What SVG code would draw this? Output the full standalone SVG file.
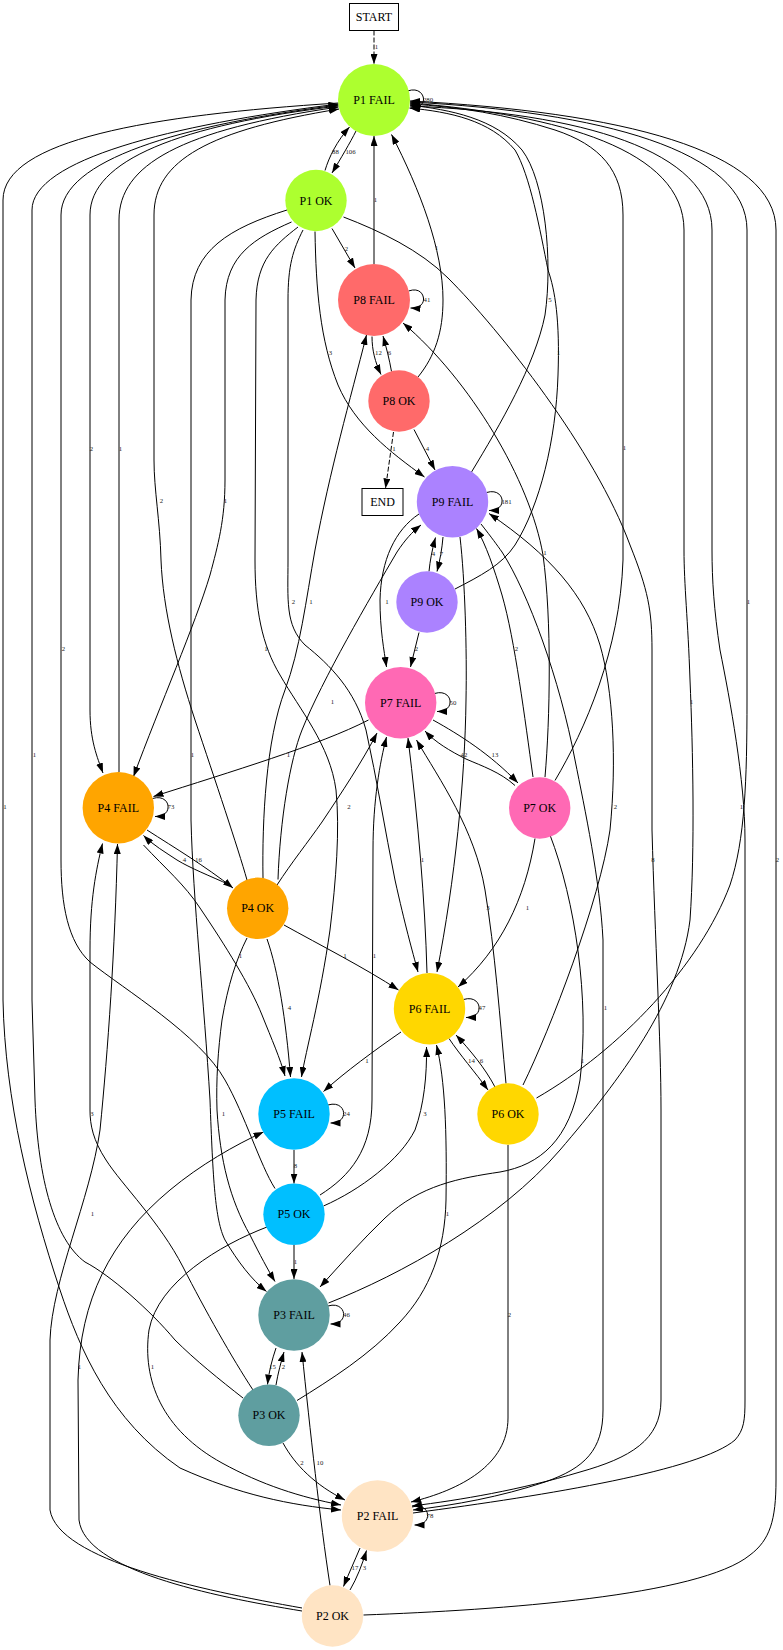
<svg xmlns="http://www.w3.org/2000/svg" width="783" height="1650" viewBox="0 0 783 1650">
<style>
.e{fill:none;stroke:#000;stroke-width:1;marker-end:url(#arr)}
.d{stroke-dasharray:5,2}
.l{font-family:"Liberation Serif",serif;font-size:6.8px;fill:#222;text-anchor:middle}
.t{font-family:"Liberation Serif",serif;font-size:12px;fill:#000;text-anchor:middle}
.box{fill:#fff;stroke:#000;stroke-width:1}
</style>
<defs>
<marker id="arr" viewBox="0 0 10 7" refX="10" refY="3.5" markerWidth="10" markerHeight="7" markerUnits="userSpaceOnUse" orient="auto"><path d="M0,0L10,3.5L0,7z" fill="#000"/></marker>
</defs>
<rect width="783" height="1650" fill="#fff"/>

<g id="edges">
<path class="e d" d="M374,30.5 L374,64"/><text class="l" x="376.5" y="48.5">1</text>
<path class="e" d="M407.5,91 C419,87 424,95 423.5,100 C423,105 418,108.5 410.5,108"/><text class="l" x="428" y="102">280</text>
<path class="e" d="M356,131 C350,143 341,158 332,173"/><text class="l" x="350.5" y="153.5">106</text>
<path class="e" d="M325,170.5 C329,157 337,141 349.5,127"/><text class="l" x="335.5" y="153.5">88</text>
<path class="e" d="M332,228.5 L355,268"/><text class="l" x="346.5" y="250.5">2</text>
<path class="e" d="M315,231.5 C316,290 320,340 338,385 C355,425 390,452 424.5,477"/><text class="l" x="330.5" y="354.5">3</text>
<path class="e" d="M303,230 C293,250 288,265 288,300 L288,560 C288,600 285,625 305,645 C330,665 355,690 366,730 C377,780 385,830 395,880 C405,925 412,950 418,972"/><text class="l" x="293.5" y="603.5">2</text>
<path class="e" d="M298,227 C275,245 257,260 256,300 L255,560 C255,610 262,645 280,675 C300,710 330,745 336,790 C340,830 336,880 330,930 C320,1000 306,1050 301.5,1077"/><text class="l" x="266" y="650.5">1</text>
<path class="e" d="M291.5,222 C255,238 226,255 225,300 L225,480 C225,520 218,545 210,575 C195,625 160,705 133.5,776.5"/><text class="l" x="225.5" y="503">1</text>
<path class="e" d="M287,210 C230,228 192,250 191,300 L191,820 C193,900 204,1000 210,1100 C213,1180 215,1220 225,1240 C238,1262 252,1280 266.5,1291.5"/><text class="l" x="192.5" y="757">1</text>
<path class="e" d="M343.5,217 C380,231 420,250 448,278 C500,330 595,450 630,545 C648,590 652,610 652,650 L652,830 C655,940 661,1040 661,1110 L661,1400 C661,1440 630,1458 580,1472 C520,1490 460,1500 412,1506"/><text class="l" x="653" y="862">8</text>
<path class="e" d="M374,264 L374,136"/><text class="l" x="375.5" y="202">1</text>
<path class="e" d="M408.5,291 C420,287 424,295 423.5,300 C423,305 418,308.5 410.5,308"/><text class="l" x="427" y="302">41</text>
<path class="e" d="M372,336.5 C372,350 375,362 381,374.5"/><text class="l" x="378.5" y="355">12</text>
<path class="e" d="M391.5,371.5 C389.5,360 386.5,348 383,336"/><text class="l" x="389.5" y="355">6</text>
<path class="e d" d="M393.5,432 L385.5,488.5"/><text class="l" x="394" y="451">1</text>
<path class="e" d="M414,429.5 L435,470"/><text class="l" x="427.5" y="451">4</text>
<path class="e" d="M418,377 C435,356 443,332 443,300 C443,250 420,190 391.5,134.5"/><text class="l" x="436.5" y="250">1</text>
<path class="e" d="M486.5,492.5 C498,489 503,497 502,502 C501.5,507 497,510.5 489,510.5"/><text class="l" x="506.5" y="503.5">181</text>
<path class="e" d="M471.5,472 C500,425 535,365 545,315 C553,260 545,180 522,150 C495,118 450,110 410,105"/><text class="l" x="550" y="302">5</text>
<path class="e" d="M443,537 C442,549 440,560 437,571.5"/><text class="l" x="441.5" y="556">7</text>
<path class="e" d="M429,571.5 C430,561 432,550 435.5,537.5"/><text class="l" x="433.5" y="556">4</text>
<path class="e" d="M455,589 C480,576 502,565 515,545 C540,505 556,440 558,375 C560,320 555,290 548,270 C540,230 530,175 515,150 C490,120 450,112 409.5,108"/><text class="l" x="558.5" y="355">1</text>
<path class="e" d="M419,632.5 L410.5,667"/><text class="l" x="416.5" y="651">2</text>
<path class="e" d="M419,514 C395,530 381,560 380,600 C380,630 384,650 386.5,667"/><text class="l" x="387" y="603.5">1</text>
<path class="e" d="M460,537 C465,580 467,650 466,700 C465,780 455,880 437,972"/>
<path class="e" d="M481,524 C492,538 497,545 502,552 C528,592 560,680 575,760 C585,810 600,880 603,940 L603,1410 C603,1450 585,1468 545,1482 C500,1497 455,1505 413,1510"/><text class="l" x="605.5" y="1009.5">1</text>
<path class="e" d="M434.5,693.5 C446,690 451,698 450,703 C449.5,708 445,711.5 437,711.5"/><text class="l" x="453" y="704.5">50</text>
<path class="e" d="M433,720 C460,735 490,754 518,783"/><text class="l" x="495" y="756.5">13</text>
<path class="e" d="M515,785.5 C500,772 482,766 466,759 C450,751 435,742 425,731"/><text class="l" x="464" y="756.5">42</text>
<path class="e" d="M368.5,720 C320,745 230,772 153.5,796.5"/><text class="l" x="288.5" y="757">1</text>
<path class="e" d="M555,780.5 C585,730 620,650 623,560 L623,215 C623,170 600,145 555,130 C505,114 460,107 410,104"/><text class="l" x="624.5" y="450">1</text>
<path class="e" d="M545,777 C550,720 552,620 543,555 C530,480 470,380 403,323"/><text class="l" x="545" y="555">1</text>
<path class="e" d="M533,777 C525,720 515,640 502,595 C494,568 486,545 476.5,528.5"/><text class="l" x="516.5" y="651">2</text>
<path class="e" d="M535,838.5 C525,900 500,950 458,987"/><text class="l" x="527.5" y="909.5">1</text>
<path class="e" d="M550,835 C575,900 590,1000 580,1080 C570,1140 540,1165 500,1172 C460,1178 420,1185 385,1218 C362,1240 340,1265 320,1287"/><text class="l" x="582.5" y="1063">1</text>
<path class="e" d="M152.5,798.5 C164,795 169,803 168,808 C167.5,813 163,816.5 155,816.5"/><text class="l" x="171" y="809">73</text>
<path class="e" d="M119,772 L119,220 C119,165 180,130 338.5,107"/><text class="l" x="120.5" y="451">1</text>
<path class="e" d="M338.5,106 C180,125 90,160 90,215 L90,710 C90,740 97,757 103,773"/><text class="l" x="91.5" y="451">2</text>
<path class="e" d="M147,830 C175,848 205,866 233,888"/><text class="l" x="198.5" y="862">16</text>
<path class="e" d="M230,885 C210,876 190,868 177,860 C165,852 153,845 143.5,835.5"/><text class="l" x="184.5" y="862">4</text>
<path class="e" d="M143.5,845 C165,868 185,885 200,908 C225,945 250,985 262,1015 C272,1040 280,1058 285,1076"/><text class="l" x="240.5" y="958">1</text>
<path class="e" d="M247,880 C238,848 215,780 195,720 C177,665 163,610 161,560 C160,520 154,490 154,460 L154,215 C154,160 210,130 339,109"/><text class="l" x="161.5" y="503">2</text>
<path class="e" d="M263,878 C262,820 266,740 285,690 C300,650 306,600 315,550 C330,470 350,400 366.5,335"/><text class="l" x="311" y="603.5">1</text>
<path class="e" d="M278,879.5 C280,820 290,760 302,730 C322,680 370,598 397,552 C405,540 412,532 421,525"/><text class="l" x="332.5" y="704">1</text>
<path class="e" d="M277,885 C292,862 308,842 322,822 C342,792 362,762 377,733"/><text class="l" x="349" y="808.5">2</text>
<path class="e" d="M284,925 C320,945 365,968 398.5,990"/><text class="l" x="345" y="958">1</text>
<path class="e" d="M267,939 C278,970 286,1020 290.5,1077"/><text class="l" x="289.5" y="1009.5">4</text>
<path class="e" d="M247,938 C236,960 228,985 222,1020 C218,1050 216,1080 217,1110 C220,1160 230,1200 250,1235 C260,1255 268,1270 275,1281.5"/><text class="l" x="223.5" y="1116">1</text>
<path class="e" d="M463.5,999.5 C475,996 480,1004 479,1009 C478.5,1014 474,1017.5 466,1017.5"/><text class="l" x="482" y="1010">47</text>
<path class="e" d="M449,1038.5 C460,1055 475,1072 488,1090"/><text class="l" x="471.5" y="1063">14</text>
<path class="e" d="M495,1087 C485,1068 470,1050 456,1035"/><text class="l" x="481.5" y="1063">6</text>
<path class="e" d="M427,973 C425,900 418,820 408,738"/><text class="l" x="422.5" y="862">1</text>
<path class="e" d="M401,1032 C375,1050 345,1072 323.5,1091.5"/><text class="l" x="367" y="1063">1</text>
<path class="e" d="M506,1083.5 C500,1020 495,950 485,890 C475,830 440,780 416.5,740"/><text class="l" x="488" y="909.5">3</text>
<path class="e" d="M523,1085 C550,1030 600,900 610,830 C617,760 613,690 600,645 C585,595 550,555 489,513.5"/><text class="l" x="615.5" y="808.5">2</text>
<path class="e" d="M536.5,1098 C620,1050 700,965 730,885 C745,840 747,780 747,700 L747,230 C747,150 600,112 410,102"/><text class="l" x="748.5" y="603.5">1</text>
<path class="e" d="M508,1145 L508,1418 C508,1465 460,1490 411,1502"/><text class="l" x="509.5" y="1317">2</text>
<path class="e" d="M328,1105 C339.5,1101.5 344.5,1109.5 343.5,1114.5 C343,1119.5 338.5,1123 330.5,1123"/><text class="l" x="346.5" y="1116">24</text>
<path class="e" d="M294,1150 L294,1183.5"/><text class="l" x="295.5" y="1167.5">8</text>
<path class="e" d="M275,1188.5 C260,1165 245,1115 225,1080 C200,1035 125,990 90,962 C68,942 61,905 61,860 L61,215 C61,160 180,125 338.5,105"/><text class="l" x="63.5" y="651">2</text>
<path class="e" d="M320,1195 C350,1176 372,1150 372,1100 L373,850 C373,800 380,762 386.5,737"/><text class="l" x="374.5" y="958">1</text>
<path class="e" d="M323.5,1206 C360,1190 400,1160 415,1130 C424,1105 427,1075 426.5,1047"/><text class="l" x="425" y="1116">3</text>
<path class="e" d="M294,1245 L294,1279"/><text class="l" x="295.5" y="1264">1</text>
<path class="e" d="M267,1227 C220,1245 158,1282 149,1330 C142,1380 162,1430 222,1463 C262,1485 300,1497 341,1505"/><text class="l" x="152.5" y="1368.5">1</text>
<path class="e" d="M328,1306 C339.5,1302.5 344.5,1310.5 343.5,1315.5 C343,1320.5 338.5,1324 330.5,1324"/><text class="l" x="346.5" y="1317">46</text>
<path class="e" d="M276,1348 C272,1360 269,1371 267.5,1384.5"/><text class="l" x="272.5" y="1368.5">15</text>
<path class="e" d="M276,1385 C278,1373 281,1362 284,1352"/><text class="l" x="283.5" y="1368.5">2</text>
<path class="e" d="M328.5,1303 C400,1275 500,1220 560,1150 C620,1080 680,1000 690,920 C695,850 693,750 690,680 C688,620 684,585 684,550 L684,230 C684,150 560,115 410,103"/><text class="l" x="691.5" y="704">1</text>
<path class="e" d="M243,1398 C220,1380 195,1360 175,1340 C150,1310 110,1275 85,1262 C55,1240 38,1180 35,1100 L32,1000 L32,210 C32,160 170,125 338.5,104"/><text class="l" x="34.5" y="757">1</text>
<path class="e" d="M253,1390 C232,1358 205,1310 183,1267 C160,1222 122,1185 106,1160 C93,1140 90,1125 90,1110 L90,950 C90,900 96,870 102.5,843.5"/><text class="l" x="92" y="1116">3</text>
<path class="e" d="M297,1400.5 C330,1380 370,1355 400,1322 C430,1290 445,1250 446,1200 C447,1130 445,1080 436.5,1045"/><text class="l" x="447.5" y="1216">1</text>
<path class="e" d="M283,1443 C295,1465 315,1485 345,1500"/><text class="l" x="302" y="1464.5">2</text>
<path class="e" d="M412,1507 C423.5,1503.5 428.5,1511.5 427.5,1516.5 C427,1521.5 422.5,1525 414.5,1525"/><text class="l" x="430" y="1518">78</text>
<path class="e" d="M360,1548 C355,1560 349,1573 343.5,1586.5"/><text class="l" x="355" y="1569.5">17</text>
<path class="e" d="M350,1590 C357,1578 362,1565 366.5,1550.5"/><text class="l" x="364.5" y="1569.5">3</text>
<path class="e" d="M330,1585.5 C320,1520 310,1430 302,1352"/><text class="l" x="320" y="1464.5">10</text>
<path class="e" d="M302,1608 C200,1590 58,1560 50,1510 L50,1340 C52,1280 90,1200 100,1130 C108,1050 115,950 117.5,844"/><text class="l" x="92.5" y="1216">1</text>
<path class="e" d="M302,1611 C210,1596 85,1570 79,1520 L78,1380 C80,1300 110,1240 170,1190 C200,1165 235,1145 263.5,1132"/><text class="l" x="79.5" y="1368.5">1</text>
<path class="e" d="M363.5,1615 C500,1610 700,1596 750,1555 C770,1540 776,1520 776,1480 L776,230 C776,150 620,112 410,101"/><text class="l" x="777.5" y="862">2</text>
<path class="e" d="M338.5,103 C150,115 3,140 3,200 L3,1000 C5,1100 30,1200 60,1290 C80,1350 110,1420 180,1468 C240,1495 290,1505 341,1510"/><text class="l" x="5" y="808.5">1</text>
<path class="e" d="M413,1513 C550,1495 700,1470 735,1440 C744,1430 745,1420 745,1400 L745,840 C745,780 730,700 720,650 C714,610 712,580 712,550 L712,230 C712,150 580,113 410,106"/><text class="l" x="741.5" y="808.5">1</text>
</g>

<g id="START"><rect class="box" x="349.5" y="3.5" width="49" height="27"/><text class="t" x="374" y="21">START</text></g>
<g id="END"><rect class="box" x="362" y="488.5" width="41" height="27"/><text class="t" x="382.5" y="506">END</text></g>
<g id="P1_FAIL"><circle cx="374" cy="100" r="36" fill="#adff2f"/><text class="t" x="374" y="104">P1 FAIL</text></g>
<g id="P1_OK"><circle cx="316" cy="200.5" r="30.7" fill="#adff2f"/><text class="t" x="316" y="204.5">P1 OK</text></g>
<g id="P8_FAIL"><circle cx="374" cy="300" r="36" fill="#ff6a6a"/><text class="t" x="374" y="304">P8 FAIL</text></g>
<g id="P8_OK"><circle cx="399" cy="401" r="30.7" fill="#ff6a6a"/><text class="t" x="399" y="405">P8 OK</text></g>
<g id="P9_FAIL"><circle cx="452.5" cy="501.7" r="35.7" fill="#ab82ff"/><text class="t" x="452.5" y="505.7">P9 FAIL</text></g>
<g id="P9_OK"><circle cx="427" cy="602" r="30.7" fill="#ab82ff"/><text class="t" x="427" y="606">P9 OK</text></g>
<g id="P7_FAIL"><circle cx="400.7" cy="702.7" r="35.7" fill="#ff69b4"/><text class="t" x="400.7" y="706.7">P7 FAIL</text></g>
<g id="P7_OK"><circle cx="539.7" cy="808" r="30.7" fill="#ff69b4"/><text class="t" x="539.7" y="812">P7 OK</text></g>
<g id="P4_FAIL"><circle cx="118.3" cy="807.7" r="35.7" fill="#ffa500"/><text class="t" x="118.3" y="811.7">P4 FAIL</text></g>
<g id="P4_OK"><circle cx="257.7" cy="908.3" r="30.7" fill="#ffa500"/><text class="t" x="257.7" y="912.3">P4 OK</text></g>
<g id="P6_FAIL"><circle cx="429.5" cy="1008.7" r="35.7" fill="#ffd700"/><text class="t" x="429.5" y="1012.7">P6 FAIL</text></g>
<g id="P6_OK"><circle cx="508" cy="1114" r="30.7" fill="#ffd700"/><text class="t" x="508" y="1118">P6 OK</text></g>
<g id="P5_FAIL"><circle cx="294" cy="1114" r="35.7" fill="#00bfff"/><text class="t" x="294" y="1118">P5 FAIL</text></g>
<g id="P5_OK"><circle cx="294" cy="1214.3" r="30.7" fill="#00bfff"/><text class="t" x="294" y="1218.3">P5 OK</text></g>
<g id="P3_FAIL"><circle cx="294" cy="1315" r="35.7" fill="#5f9ea0"/><text class="t" x="294" y="1319">P3 FAIL</text></g>
<g id="P3_OK"><circle cx="269" cy="1415.3" r="30.7" fill="#5f9ea0"/><text class="t" x="269" y="1419.3">P3 OK</text></g>
<g id="P2_FAIL"><circle cx="377.5" cy="1516" r="35.7" fill="#ffe4c4"/><text class="t" x="377.5" y="1520">P2 FAIL</text></g>
<g id="P2_OK"><circle cx="332.5" cy="1616" r="30.7" fill="#ffe4c4"/><text class="t" x="332.5" y="1620">P2 OK</text></g>
</svg>
